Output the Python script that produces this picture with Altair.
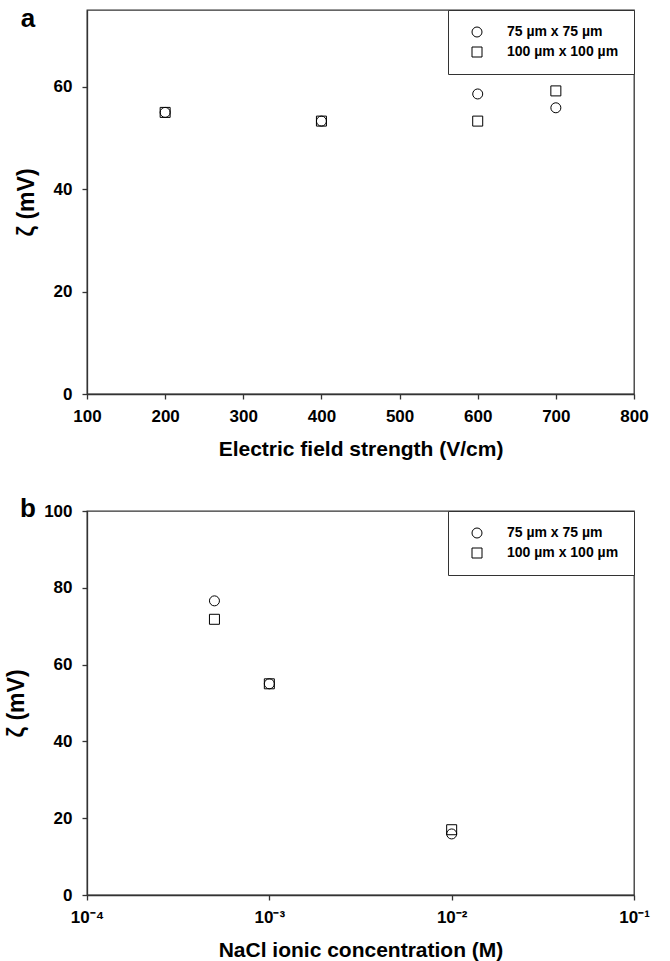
import altair as alt
import pandas as pd

# ---- data ----
series_labels = ["75 µm x 75 µm", "100 µm x 100 µm"]
series_shapes = ["circle", "square"]

field_strength = [200, 400, 600, 700]
zeta_field_75 = [55.0, 53.3, 58.6, 55.9]
zeta_field_100 = [55.0, 53.3, 53.3, 59.2]

nacl_conc = [5e-4, 1e-3, 1e-2]
zeta_conc_75 = [76.6, 55.0, 15.9]
zeta_conc_100 = [71.8, 55.0, 17.0]

field_ticks = [100, 200, 300, 400, 500, 600, 700, 800]
conc_ticks = [1e-4, 1e-3, 1e-2, 1e-1]
conc_tick_labels = ["10⁻⁴", "10⁻³", "10⁻²", "10⁻¹"]
zeta_ticks_a = [0, 20, 40, 60]
zeta_ticks_b = [0, 20, 40, 60, 80, 100]

FONT = "Liberation Sans, Arial, Helvetica"
AX = "#333333"

df_a = pd.DataFrame({
    "x": field_strength * 2,
    "zeta": zeta_field_75 + zeta_field_100,
    "series": [series_labels[0]] * len(field_strength) + [series_labels[1]] * len(field_strength),
})
df_b = pd.DataFrame({
    "x": nacl_conc * 2,
    "zeta": zeta_conc_75 + zeta_conc_100,
    "series": [series_labels[0]] * len(nacl_conc) + [series_labels[1]] * len(nacl_conc),
})

label_expr = " : ".join(
    f"datum.value == {v} ? '{l}'" for v, l in zip(conc_ticks, conc_tick_labels)
) + " : ''"


def legend():
    return alt.Legend(
        title=None, orient="top-right", offset=0,
        strokeColor=AX, fillColor="white", padding=15,
        labelFont=FONT, labelFontSize=14, labelFontWeight="bold",
        labelColor="black", labelOffset=23, symbolOffset=7,
        symbolSize=100, symbolStrokeColor="black", symbolFillColor="transparent",
        symbolStrokeWidth=1, rowPadding=6, labelLimit=300,
    )


def y_axis(vals):
    return alt.Axis(values=vals, title="ζ (mV)", grid=False, format="d")


shape_scale = alt.Scale(domain=series_labels, range=series_shapes)

pts_a = alt.Chart(df_a).mark_point(filled=False, color="black", strokeWidth=1, size=100, opacity=1).encode(
    x=alt.X("x:Q", scale=alt.Scale(domain=[100, 800], nice=False),
            axis=alt.Axis(values=field_ticks, title="Electric field strength (V/cm)", grid=False)),
    y=alt.Y("zeta:Q", scale=alt.Scale(domain=[0, 75], nice=False), axis=y_axis(zeta_ticks_a)),
    shape=alt.Shape("series:N", scale=shape_scale, legend=legend()),
)
lab_a = alt.Chart(pd.DataFrame({"t": ["a"]})).mark_text(
    font=FONT, fontSize=26, fontWeight="bold", color="black", align="center", baseline="alphabetic"
).encode(x=alt.value(-59), y=alt.value(17), text="t:N")
panel_a = alt.layer(pts_a, lab_a).properties(width=547, height=384)

pts_b = alt.Chart(df_b).mark_point(filled=False, color="black", strokeWidth=1, size=100, opacity=1).encode(
    x=alt.X("x:Q", scale=alt.Scale(type="log", domain=[1e-4, 1e-1], nice=False),
            axis=alt.Axis(values=conc_ticks, labelExpr=label_expr,
                          title="NaCl ionic concentration (M)", grid=False)),
    y=alt.Y("zeta:Q", scale=alt.Scale(domain=[0, 100], nice=False), axis=y_axis(zeta_ticks_b)),
    shape=alt.Shape("series:N", scale=shape_scale, legend=legend()),
)
lab_b = alt.Chart(pd.DataFrame({"t": ["b"]})).mark_text(
    font=FONT, fontSize=26, fontWeight="bold", color="black", align="center", baseline="alphabetic"
).encode(x=alt.value(-59), y=alt.value(6), text="t:N")
panel_b = alt.layer(pts_b, lab_b).properties(width=547, height=384)

chart = alt.vconcat(panel_a, panel_b, spacing=35).resolve_scale(shape="independent").properties(
    padding={"left": 4, "top": 5, "right": 5, "bottom": 0}, background="white"
).configure_view(stroke=AX, strokeWidth=1.3).configure_axis(
    labelFont=FONT, labelFontSize=17, labelFontWeight="bold", labelColor="black",
    titleFont=FONT, titleFontSize=22, titleFontWeight="bold", titleColor="black",
    domainColor=AX, domainWidth=1.3, tickColor=AX, tickWidth=1.3, tickSize=5,
).configure_axisX(labelPadding=9, titlePadding=14, titleFontSize=21, labelFlush=False).configure_axisY(
    labelPadding=10, titlePadding=15, titleFontSize=23
)

chart.save("out.html", embed_options={"renderer": "svg", "actions": False})
